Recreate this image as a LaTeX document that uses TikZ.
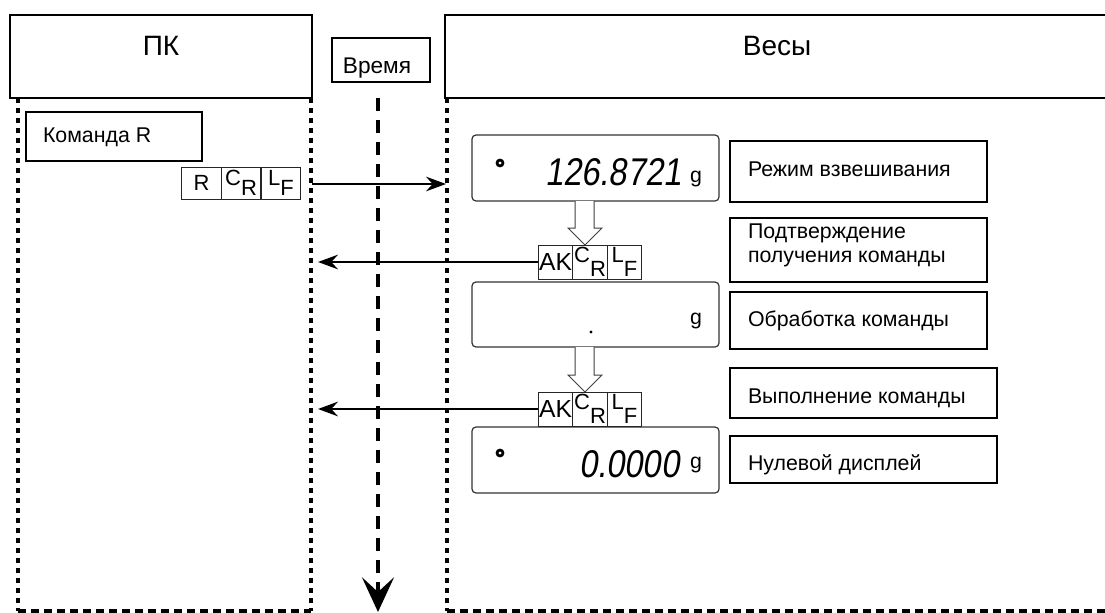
\documentclass[tikz,border=0pt]{standalone}
\usepackage{fontspec}
\setmainfont{Liberation Sans}
\newfontfamily\segfont[FakeStretch=0.85,FakeSlant=0.15]{Liberation Sans}
\usetikzlibrary{arrows.meta,fit}
\begin{document}
\begin{tikzpicture}[x=0.75pt,y=-0.75pt,
  every node/.style={inner sep=0pt, outer sep=0pt},
  hbox/.style={draw, line width=1.5pt, inner sep=0pt},
  lbox/.style={draw, line width=1.5pt, inner sep=0pt},
  lbl/.style={font=\fontsize{16pt}{18pt}\selectfont, anchor=west, align=left},
  htxt/.style={font=\fontsize{21pt}{23pt}\selectfont},
  disp/.style={draw=black!80, line width=0.9pt, rounded corners=3pt, inner sep=0pt},
  seg/.style={font=\segfont\fontsize{29pt}{30pt}\selectfont, anchor=base west},
  gram/.style={font=\fontsize{16pt}{17pt}\selectfont, anchor=base west},
  ring/.style={circle, draw, line width=2pt, minimum size=4.5pt},
  cellR/.style={draw=black!85, line width=0.75pt, minimum width=29.6pt, minimum height=24pt, font=\fontsize{16.5pt}{17pt}\selectfont},
  cellA/.style={draw=black!85, line width=0.75pt, minimum width=26pt, minimum height=25.5pt, font=\fontsize{16.5pt}{17pt}\selectfont},
  aktxt/.style={font=\fontsize{18.5pt}{19pt}\selectfont},
  life/.style={line width=2.4pt, dash pattern=on 3.75pt off 3.75pt},
  baseln/.style={line width=2.4pt, dash pattern=on 6pt off 3.75pt},
  tline/.style={line width=2.4pt, dash pattern=on 10pt off 6.5pt},
  msg/.style={line width=1.2pt, -{Stealth[length=15pt,width=11pt,inset=5pt]}},
  hollow/.style={draw=black!75, line width=0.75pt, fill=white},
]
\useasboundingbox (0,0) rectangle (1105,613);

% headers
\node[hbox, fit={(10,15)(312,98)}] (pk) {};
\node[htxt] (pkt) at (161,46) {ПК};
\node[hbox, fit={(332,38)(430,82)}] (tm) {};
\node[lbl, font=\fontsize{17pt}{18pt}\selectfont, anchor=center] (tmt) at (377,68) {Время};
\node[hbox, fit={(445,15)(1112,98)}] (ws) {};
\node[htxt] (wst) at (777,46) {Весы};

% lifelines
\coordinate (l1t) at (18,98);  \coordinate (l1b) at (18,611);
\coordinate (l2t) at (311,98); \coordinate (l2b) at (311,611);
\coordinate (l3t) at (447,98); \coordinate (l3b) at (447,611);
\coordinate (rr) at (1105,611);
\draw[life] (l1t) -- (l1b);
\draw[life] (l2t) -- (l2b);
\draw[life] (l3t) -- (l3b);
\draw[baseln] (l1b) -- (l2b);
\draw[baseln] (l3b) -- (rr);

% time line
\coordinate (tt) at (378,98);
\coordinate (tb) at (378,612);
\draw[tline, -{Stealth[length=26pt,width=24pt,inset=11pt]}] (tt) -- (tb);

% command box
\node[lbox, fit={(26,112)(202,161)}] (kr) {};
\node[lbl] (krt) at (43,137) {Команда R};

% R CR LF
\node[cellR] (r1) at (201.5,183) {R};
\node[cellR] (r2) at (241,183) {C\raisebox{-7.5pt}{R}};
\node[cellR] (r3) at (281,183) {L\raisebox{-7.5pt}{F}};

% message to balance
\coordinate (m1s) at (312,184);
\coordinate (m1e) at (446,184);
\draw[msg] (m1s) -- (m1e);

% displays
\node[disp, fit={(472,135)(719,201)}] (d1) {};
\node[ring] (c1) at (500,163) {};
\node[seg] (n1) at (545,185) {126.8721};
\node[gram] (g1) at (690,182) {g};

\node[disp, fit={(472,282)(719,347)}] (d2) {};
\node[circle, fill, minimum size=2.5pt] (p2) at (591,332) {};
\node[gram] (g2) at (690,324) {g};

\node[disp, fit={(472,427)(719,493)}] (d3) {};
\node[ring] (c3) at (500,453) {};
\node[seg] (n3) at (579,477) {0.0000};
\node[gram] (g3) at (690,468) {g};

% hollow arrows
\draw[hollow] (575,201) -- (575,228) -- (568,228) -- (585,245) -- (602,228) -- (594,228) -- (594,201);
\draw[hollow] (575,347) -- (575,375) -- (568,375) -- (585,392) -- (602,375) -- (594,375) -- (594,347);

% AK CR LF blocks
\node[cellA, aktxt] (a1) at (555.5,262) {AK};
\node[cellA] (a2) at (590,262) {C\raisebox{-10.5pt}{R}};
\node[cellA] (a3) at (624.5,262) {L\raisebox{-10.5pt}{F}};
\node[cellA, aktxt] (b1a) at (555.5,409) {AK};
\node[cellA] (b2a) at (590,409) {C\raisebox{-10.5pt}{R}};
\node[cellA] (b3a) at (624.5,409) {L\raisebox{-10.5pt}{F}};

% return messages
\coordinate (m2e) at (318,262);
\draw[msg] (a1.west) -- (m2e);
\coordinate (m3e) at (318,409);
\draw[msg] (b1a.west) -- (m3e);

% labels
\node[lbox, fit={(730,141)(987,202)}] (lb1) {};
\node[lbl] (lt1) at (748,169) {Режим взвешивания};
\node[lbox, fit={(730,218)(987,282)}] (lb2) {};
\node[lbl] (lt2) at (748,245) {Подтверждение\\получения команды};
\node[lbox, fit={(730,292)(987,349)}] (lb3) {};
\node[lbl] (lt3) at (748,321) {Обработка команды};
\node[lbox, fit={(730,368)(997,418)}] (lb4) {};
\node[lbl] (lt4) at (748,398) {Выполнение команды};
\node[lbox, fit={(730,436)(997,483)}] (lb5) {};
\node[lbl] (lt5) at (748,465) {Нулевой дисплей};
\end{tikzpicture}
\end{document}
